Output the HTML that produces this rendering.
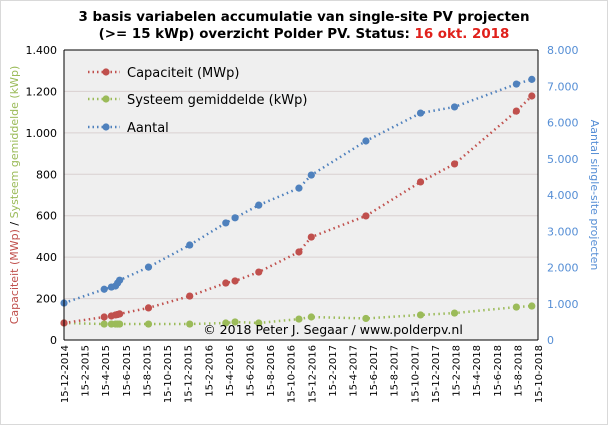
<!DOCTYPE html>
<html><head><meta charset="utf-8"><style>
body{margin:0;background:#fff}
svg{display:block;font-family:"DejaVu Sans","Liberation Sans",sans-serif}
</style></head><body>
<svg id="chart" width="608" height="425">
<rect x="0.5" y="0.5" width="607" height="424" fill="#fff" stroke="#d9d9d9"/>
<text x="304" y="21" text-anchor="middle" font-size="13.4" font-weight="bold" fill="#000">3 basis variabelen accumulatie van single-site PV projecten</text>
<text x="304" y="38" text-anchor="middle" font-size="13.4" font-weight="bold" fill="#000">(&gt;= 15 kWp) overzicht Polder PV. Status: <tspan fill="#e0201b">16 okt. 2018</tspan></text>
<rect x="64" y="50" width="474" height="290" fill="#efefef"/>
<g id="grid"></g><g id="axes"></g><g id="series"></g>
<line x1="64" y1="50" x2="538" y2="50" stroke="#000"/>
<line x1="538" y1="50" x2="538" y2="340" stroke="#000"/>
<line x1="64" y1="50" x2="64" y2="340" stroke="#000"/>
<line x1="64" y1="340" x2="538" y2="340" stroke="#000"/>
<text x="333" y="334" text-anchor="middle" font-size="12.5" fill="#000">© 2018 Peter J. Segaar / www.polderpv.nl</text>
<g>
<g><line x1="88" y1="72" x2="120" y2="72" stroke="#c0504d" stroke-width="2.5" stroke-dasharray="1.5 3" /><circle cx="106" cy="72" r="3.6" fill="#c0504d"/><text x="127" y="77" font-size="13">Capaciteit (MWp)</text></g>
<g><line x1="88" y1="99" x2="120" y2="99" stroke="#9bbb59" stroke-width="2.5" stroke-dasharray="1.5 3"/><circle cx="106" cy="99" r="3.6" fill="#9bbb59"/><text x="127" y="104" font-size="13">Systeem gemiddelde (kWp)</text></g>
<g><line x1="88" y1="127" x2="120" y2="127" stroke="#4f81bd" stroke-width="2.5" stroke-dasharray="1.5 3"/><circle cx="106" cy="127" r="3.6" fill="#4f81bd"/><text x="127" y="132" font-size="13">Aantal</text></g>
</g>
<text transform="translate(18,195) rotate(-90)" text-anchor="middle" font-size="11"><tspan fill="#c0504d">Capaciteit (MWp)</tspan><tspan fill="#000"> / </tspan><tspan fill="#9bbb59">Systeem gemiddelde (kWp)</tspan></text>
<text transform="translate(591,195) rotate(90)" text-anchor="middle" font-size="11" fill="#558ed5">Aantal single-site projecten</text>
</svg>
<script>
const xLabels=["15-12-2014","15-2-2015","15-4-2015","15-6-2015","15-8-2015","15-10-2015","15-12-2015","15-2-2016","15-4-2016","15-6-2016","15-8-2016","15-10-2016","15-12-2016","15-2-2017","15-4-2017","15-6-2017","15-8-2017","15-10-2017","15-12-2017","15-2-2018","15-4-2018","15-6-2018","15-8-2018","15-10-2018"];
const leftTicks=["0","200","400","600","800","1.000","1.200","1.400"];
const rightTicks=["0","1.000","2.000","3.000","4.000","5.000","6.000","7.000","8.000"];
// months since 15-12-2014
const months=[0,3.9,4.6,5.0,5.2,5.4,8.2,12.2,15.7,16.6,18.9,22.8,24.0,29.3,34.6,37.9,43.9,45.4];
const capaciteit=[82,111,116,121,123,126,155,212,275,285,328,425,497,599,763,850,1105,1178];
const systeem=[82,77,77,77,77,77,77,77,82,87,82,101,111,104,121,130,159,164];
const aantal=[1020,1400,1460,1490,1570,1650,2010,2620,3230,3370,3720,4190,4550,5490,6260,6430,7060,7190];
const X0=64,X1=538,Y0=340,Y1=50;
const xs=m=>X0+(X1-X0)*m/46;
const yl=v=>Y0-(Y0-Y1)*v/1400;
const yr=v=>Y0-(Y0-Y1)*v/8000;
const NS="http://www.w3.org/2000/svg";
function mk(p,t,a){const e=document.createElementNS(NS,t);for(const k in a)e.setAttribute(k,a[k]);p.appendChild(e);return e;}
const grid=document.getElementById('grid'),axes=document.getElementById('axes'),ser=document.getElementById('series');
leftTicks.forEach((t,i)=>{const y=yl(i*200);
 if(i>0&&i<7){const g=mk(grid,'line',{x1:X0,x2:X1,y1:y,y2:y,stroke:'#d9d0d0'});
 
 }
 const e=mk(axes,'text',{x:57,y:y+4,'text-anchor':'end','font-size':11,fill:'#000'});e.textContent=t;
 
 });
rightTicks.forEach((t,i)=>{const y=yr(i*1000);
 const e=mk(axes,'text',{x:547,y:y+4,'font-size':11,fill:'#558ed5'});e.textContent=t;
 
 });
xLabels.forEach((t,i)=>{const x=X0+i*(X1-X0)/23;
 const e=mk(axes,'text',{transform:`translate(${x+4},345) rotate(-90)`,'text-anchor':'end','font-size':10,fill:'#000'});e.textContent=t;
 
 });
function series(vals,yf,color,name){
 const g=mk(ser,'g',{});
 
 
 mk(g,'polyline',{points:vals.map((v,i)=>xs(months[i])+','+yf(v)).join(' '),fill:'none',stroke:color,'stroke-width':2.5,'stroke-dasharray':'1.5 3.5'});
 vals.forEach((v,i)=>{const c=mk(g,'circle',{cx:xs(months[i]),cy:yf(v),r:3.6,fill:color});
 
 });
}
series(systeem,yl,'#9bbb59','series-systeem');
series(capaciteit,yl,'#c0504d','series-capaciteit');
series(aantal,yr,'#4f81bd','series-aantal');
</script>
</body></html>
